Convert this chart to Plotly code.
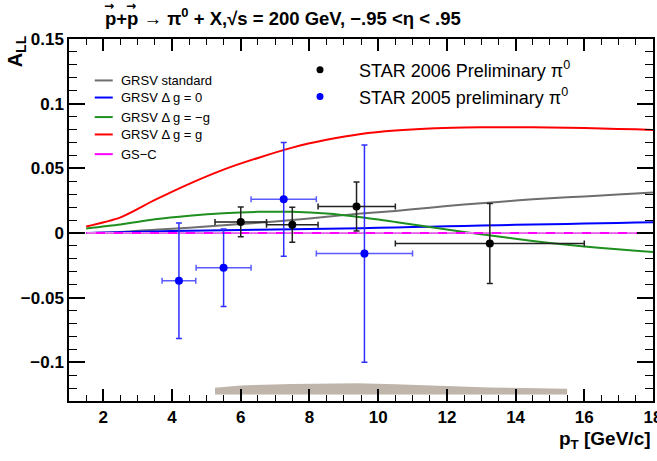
import plotly.graph_objects as go

# ---------------- data ----------------
curve_x = [1.5, 2.5, 3.5, 4.5, 5.5, 6.5, 7.5, 8.5, 9.5, 10.5, 11.5, 12.5, 13.5, 14.5, 15.5, 16.5, 17.5, 18.0]
grsv_std = [0.0, 0.0008, 0.0025, 0.004, 0.006, 0.0078, 0.0100, 0.0125, 0.0150, 0.0170, 0.0195, 0.0220, 0.0240, 0.0260, 0.0275, 0.0290, 0.0305, 0.0312]
grsv_zero = [0.0, 0.0006, 0.0012, 0.0017, 0.0021, 0.0025, 0.0028, 0.0032, 0.0037, 0.0042, 0.0048, 0.0054, 0.0060, 0.0065, 0.0070, 0.0075, 0.0080, 0.0083]
grsv_minus = [0.0035, 0.0065, 0.0105, 0.0133, 0.0153, 0.0163, 0.0163, 0.0150, 0.0122, 0.0085, 0.0045, 0.0008, -0.0028, -0.0062, -0.0092, -0.0117, -0.0138, -0.0147]
grsv_max = [0.0050, 0.0120, 0.0255, 0.0380, 0.0490, 0.0580, 0.0660, 0.0720, 0.0765, 0.0792, 0.0808, 0.0815, 0.0818, 0.0818, 0.0814, 0.0808, 0.0801, 0.0797]
gsc = [0.0, 0.0, 0.0, 0.0, 0.0, 0.0, 0.0, 0.0, 0.0, 0.0, 0.0, 0.0, 0.0, 0.0, 0.0, 0.0, 0.0, 0.0]

pt06 = [6.0, 7.5, 9.37, 13.25]
all06 = [0.0085, 0.0063, 0.0204, -0.0082]
stat06 = [0.0115, 0.0135, 0.019, 0.031]
xlo06 = [0.75, 0.75, 1.12, 2.75]
xhi06 = [0.75, 0.75, 1.13, 2.75]

pt05 = [4.2, 5.5, 7.25, 9.6]
all05 = [-0.037, -0.027, 0.026, -0.016]
stat05 = [0.0447, 0.030, 0.044, 0.084]
xerr05 = [0.49, 0.8, 0.95, 1.4]

sys_x = [5.25, 6.0, 7.5, 9.4, 10.5, 13.25, 15.5]
sys_top = [-0.1198, -0.118, -0.1168, -0.1162, -0.117, -0.1195, -0.1205]
sys_bottom = -0.125

x_range = [1, 18]
y_range = [-0.13, 0.15]

FONT = "Liberation Sans, Arial, Helvetica, sans-serif"

fig = go.Figure()

# systematic band
fig.add_trace(go.Scatter(
    x=sys_x + sys_x[::-1],
    y=sys_top + [sys_bottom] * len(sys_x),
    fill="toself", fillcolor="#bfb5ab", line=dict(width=0, color="#bfb5ab"),
    mode="lines", hoverinfo="skip", showlegend=False))

# theory curves
curves = [
    ("GRSV standard", grsv_std, "#6e6e6e"),
    ("GRSV Δ g = 0", grsv_zero, "#0000ff"),
    ("GRSV Δ g = −g", grsv_minus, "#1f8f1f"),
    ("GRSV Δ g = g", grsv_max, "#ff0000"),
    ("GS−C", gsc, "#ff00ff"),
]
for name, vals, col in curves:
    fig.add_trace(go.Scatter(x=curve_x, y=vals, mode="lines", name=name,
                             line=dict(color=col, width=2, shape="spline", smoothing=0.8),
                             showlegend=False))

# dashed zero line
fig.add_trace(go.Scatter(x=x_range, y=[0, 0], mode="lines",
                         line=dict(color="#d8d8d8", width=1, dash="dash"),
                         showlegend=False, hoverinfo="skip"))

# data
fig.add_trace(go.Scatter(
    x=pt05, y=all05, mode="markers", name="STAR 2005 preliminary π0",
    marker=dict(color="#0000ff", size=8),
    error_y=dict(type="data", array=stat05, color="#2f2fff", thickness=1.5, width=3),
    error_x=dict(type="data", array=xerr05, color="#5a5aff", thickness=1.5, width=3),
    showlegend=False))
fig.add_trace(go.Scatter(
    x=pt06, y=all06, mode="markers", name="STAR 2006 Preliminary π0",
    marker=dict(color="#000000", size=8),
    error_y=dict(type="data", array=stat06, color="#222222", thickness=1.5, width=3),
    error_x=dict(type="data", array=xhi06, arrayminus=xlo06, color="#222222", thickness=1.5, width=3),
    showlegend=False))

shapes = []
annotations = []

# left legend (manual)
leg_rows = [0.8855, 0.8383, 0.7843, 0.7363, 0.6819]
for (name, vals, col), yy in zip(curves, leg_rows):
    shapes.append(dict(type="line", xref="paper", yref="paper",
                       x0=0.0441, x1=0.0749, y0=yy, y1=yy,
                       line=dict(color=col, width=2)))
    annotations.append(dict(xref="paper", yref="paper", x=0.0852, y=yy,
                            text=name, showarrow=False, xanchor="left", yanchor="middle",
                            font=dict(family=FONT, size=13, color="black")))

# right legend (manual)
for yy, col, txt in [(0.9151, "#000000", "STAR 2006 Preliminary π<sup>0</sup>"),
                     (0.8413, "#0000ff", "STAR 2005 preliminary π<sup>0</sup>")]:
    shapes.append(dict(type="circle", xref="paper", yref="paper",
                       xsizemode="pixel", ysizemode="pixel",
                       xanchor=0.4298, yanchor=yy, x0=-3.5, x1=3.5, y0=-3.5, y1=3.5,
                       fillcolor=col, line=dict(color=col, width=0)))
    annotations.append(dict(xref="paper", yref="paper", x=0.4931, y=yy,
                            text=txt, showarrow=False, xanchor="left", yanchor="middle",
                            font=dict(family=FONT, size=18, color="black")))

# title (left edge at ~103 px)
title_x0 = (103 - 69) / 583.7
annotations.append(dict(xref="paper", yref="paper", x=title_x0, y=1.062,
                        text="<b>p+p \u2192 \u03c0<sup>0</sup> + X,\u221as = 200 GeV, \u2212.95 <\u03b7 < .95</b>",
                        showarrow=False, xanchor="left", yanchor="middle",
                        font=dict(family=FONT, size=18.5, color="black")))
# vector arrows over the two p's
for px in (108.5, 130.5):
    annotations.append(dict(xref="paper", yref="paper", x=(px - 69) / 583.7, y=1.09,
                            text="<b>\u2192</b>", showarrow=False, xanchor="center", yanchor="middle",
                            font=dict(family="DejaVu Sans", size=12, color="black")))
# y title
annotations.append(dict(xref="paper", yref="paper", x=-0.0896, y=0.965,
                        text="<b>A<sub>LL</sub></b>", textangle=-90,
                        showarrow=False, xanchor="center", yanchor="middle",
                        font=dict(family=FONT, size=20, color="black")))
# x title
annotations.append(dict(xref="paper", yref="paper", x=1.0, y=-0.108,
                        text="<b>p<sub>T</sub> [GeV/c]</b>",
                        showarrow=False, xanchor="right", yanchor="middle",
                        font=dict(family=FONT, size=19, color="black")))

fig.update_layout(
    width=657, height=461,
    margin=dict(l=69, r=4, t=39, b=60, autoexpand=False),
    paper_bgcolor="white", plot_bgcolor="white",
    showlegend=False,
    shapes=shapes, annotations=annotations,
    font=dict(family=FONT, color="black"),
)
fig.update_xaxes(range=x_range, showgrid=False, zeroline=False, automargin=False,
                 showline=True, linecolor="black", linewidth=1.5, mirror="allticks",
                 ticks="inside", ticklen=12, tickwidth=1.5, tickcolor="black",
                 dtick=2, tick0=0, ticklabeloverflow="allow",
                 minor=dict(ticks="inside", ticklen=6, dtick=0.5, tickwidth=1, tickcolor="black"),
                 tickfont=dict(family=FONT, size=17, color="black", weight="bold"))
fig.update_yaxes(range=y_range, showgrid=False, zeroline=False, automargin=False,
                 showline=True, linecolor="black", linewidth=1.5, mirror="allticks",
                 ticks="inside", ticklen=16, tickwidth=1.5, tickcolor="black",
                 tickvals=[-0.1, -0.05, 0, 0.05, 0.1, 0.15],
                 ticktext=["\u22120.1", "\u22120.05", "0", "0.05", "0.1", "0.15"],
                 minor=dict(ticks="inside", ticklen=8, dtick=0.01, tickwidth=1, tickcolor="black"),
                 tickfont=dict(family=FONT, size=17, color="black", weight="bold"))

fig.write_html("out.html", config={"displayModeBar": False},
               post_script="document.body.style.margin='0';document.body.style.padding='0';")
